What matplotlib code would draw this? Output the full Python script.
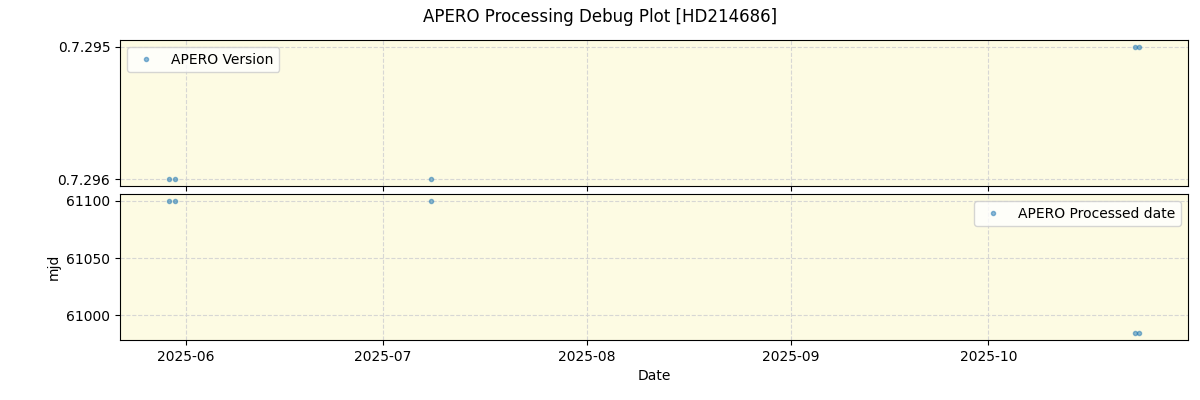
import matplotlib
matplotlib.use('Agg')
from matplotlib import pyplot as plt
import matplotlib.dates as mdates
import pandas as pd

version_dates = ['2025-05-29 10:00', '2025-05-30 08:00', '2025-07-08 08:00',
                 '2025-10-23 05:00', '2025-10-23 23:00']
versions = ['0.7.296', '0.7.296', '0.7.296', '0.7.295', '0.7.295']
processed_mjd = [61100.0, 61100.0, 61099.4, 60984.3, 60984.3]

dates = pd.to_datetime(version_dates)

fig, (ax1, ax2) = plt.subplots(2, 1, figsize=(12, 4), sharex=True)
plt.subplots_adjust(left=0.1, right=0.99, top=0.9, bottom=0.15, hspace=0.055)

for ax in (ax1, ax2):
    ax.set_facecolor('#fdfbe3')
    ax.grid(True, linestyle='--', color='lightgray', alpha=0.9)

ax1.plot(dates, versions, 'o', color='tab:blue', alpha=0.5, markersize=3,
         label='APERO Version')
ax1.legend(loc='upper left')

ax2.plot(dates, processed_mjd, 'o', color='tab:blue', alpha=0.5, markersize=3,
         label='APERO Processed date')
ax2.legend(loc='upper right')
ax2.set_ylabel('mjd')
ax2.set_xlabel('Date')

ax2.xaxis.set_major_locator(mdates.MonthLocator())
ax2.xaxis.set_major_formatter(mdates.DateFormatter('%Y-%m'))

fig.suptitle('APERO Processing Debug Plot [HD214686]')

fig.savefig('out.png', dpi=100)
